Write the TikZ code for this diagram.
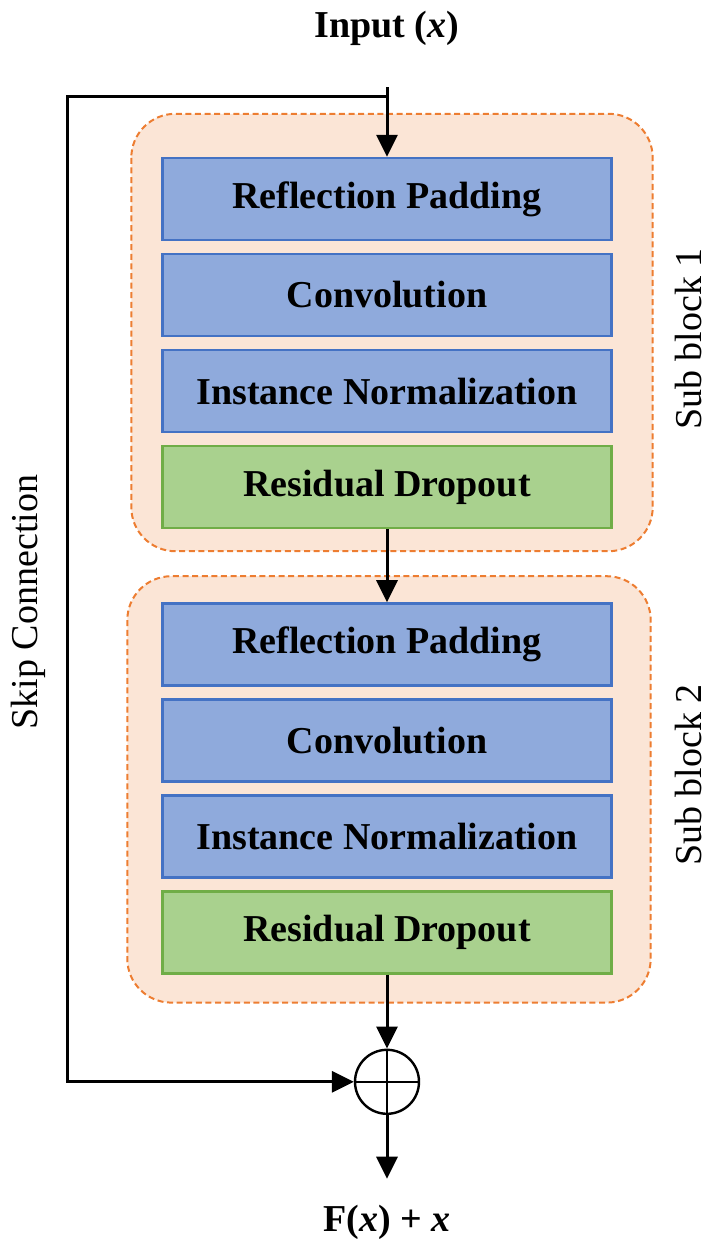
\documentclass[tikz,border=0pt]{standalone}
\usepackage{fontspec}
\setmainfont{Liberation Serif}
\usetikzlibrary{positioning,calc,backgrounds,arrows.meta}

\definecolor{boxblue}{HTML}{8FAADC}
\definecolor{lineblue}{HTML}{4472C4}
\definecolor{boxgreen}{HTML}{A9D18E}
\definecolor{linegreen}{HTML}{70AD47}
\definecolor{blockfill}{HTML}{FBE5D6}
\definecolor{blockline}{HTML}{ED7D31}

\tikzset{
  layer/.style={draw=lineblue, fill=boxblue, line width=1.2pt,
    minimum width=224.5pt, minimum height=41pt,
    font=\fontsize{19}{22}\selectfont\bfseries},
  droplayer/.style={layer, draw=linegreen, fill=boxgreen},
  subblock/.style={draw=blockline, fill=blockfill, line width=1pt,
    dash pattern=on 3pt off 1.8pt, rounded corners=22pt},
  lbl/.style={font=\fontsize{19}{22}\selectfont},
  iolbl/.style={font=\fontsize{19}{22}\selectfont\bfseries},
  adder/.style={draw, circle, line width=1.2pt, minimum size=32pt, inner sep=0pt},
  arr/.style={-{Triangle[length=11pt,width=10.5pt]}, line width=1.5pt},
}

\begin{document}
\begin{tikzpicture}[node distance=5.8pt]
  \useasboundingbox (0,0) rectangle (360pt,-626.5pt);

  % Define nodes
  \node[iolbl]                      (input)  at (193.5pt,-14pt) {Input (\textit{x})};
  \node[layer]                      (rp1)    at (193.5pt,-99.5pt) {Reflection Padding};
  \node[layer, below=of rp1]        (conv1)  {Convolution};
  \node[layer, below=of conv1]      (norm1)  {Instance Normalization};
  \node[droplayer, below=of norm1]  (drop1)  {Residual Dropout};
  \node[layer, below=36.5pt of drop1] (rp2)  {Reflection Padding};
  \node[layer, below=of rp2]        (conv2)  {Convolution};
  \node[layer, below=of conv2]      (norm2)  {Instance Normalization};
  \node[droplayer, below=of norm2]  (drop2)  {Residual Dropout};
  \node[adder, below=37pt of drop2] (sum)    {};
  \node[iolbl]                      (output) at (193.5pt,-611pt) {F(\textit{x}) + \textit{x}};
  \node[lbl, rotate=90]             (sb1)    at (344pt,-169.5pt) {Sub block 1};
  \node[lbl, rotate=90]             (sb2)    at (344pt,-387.5pt) {Sub block 2};
  \node[lbl, rotate=90]             (skip)   at (14pt,-301pt) {Skip Connection};
  \coordinate (fork)   at (193.5pt,-48pt);
  \coordinate (corner) at (33.5pt,-48pt);

  % Sub blocks
  \begin{scope}[on background layer]
    \draw[subblock] ($(rp1.north west)+(-15pt,21.5pt)$) rectangle ($(drop1.south east)+(20pt,-11pt)$);
    \draw[subblock] ($(rp2.north west)+(-17pt,13pt)$) rectangle ($(drop2.south east)+(19pt,-14pt)$);
  \end{scope}

  % Connect the nodes
  \draw[arr, shorten <=17.5pt] (input) -- (rp1);
  \draw[arr] (drop1) -- (rp2);
  \draw[arr] (drop2) -- (sum);
  \draw[arr, shorten >=9.5pt] (sum) -- (output);
  \draw[arr] (fork) -- (corner) |- (sum);
  \draw[line width=1.2pt] (sum.north) -- (sum.south) (sum.west) -- (sum.east);

\end{tikzpicture}
\end{document}
